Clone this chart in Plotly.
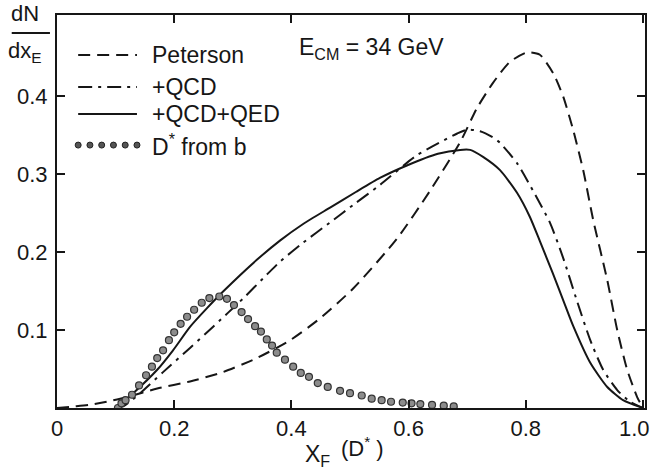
import plotly.graph_objects as go

# ---- data ----
pet_x = [0, 0.03, 0.056, 0.085, 0.119, 0.171, 0.227, 0.283, 0.341, 0.398, 0.449, 0.505,
         0.58, 0.637, 0.688, 0.717, 0.744, 0.773, 0.802, 0.824, 0.847, 0.864, 0.881,
         0.898, 0.915, 0.939, 0.956, 0.973, 0.99, 1.0]
pet_y = [0, 0.002, 0.004, 0.008, 0.014, 0.025, 0.034, 0.046, 0.064, 0.087, 0.115, 0.153,
         0.217, 0.279, 0.341, 0.385, 0.417, 0.444, 0.456, 0.453, 0.429, 0.399, 0.356,
         0.305, 0.241, 0.164, 0.10, 0.049, 0.014, 0]

qcd_x = [0.10, 0.113, 0.142, 0.181, 0.227, 0.266, 0.317, 0.358, 0.381, 0.42, 0.466, 0.51,
         0.551, 0.614, 0.683, 0.70, 0.722, 0.744, 0.756, 0.785, 0.812, 0.841, 0.864,
         0.887, 0.91, 0.932, 0.956, 0.978, 1.0]
qcd_y = [0, 0.002, 0.019, 0.046, 0.077, 0.104, 0.14, 0.171, 0.188, 0.212, 0.238, 0.263,
         0.286, 0.324, 0.352, 0.357, 0.355, 0.347, 0.34, 0.314, 0.279, 0.238, 0.192,
         0.138, 0.087, 0.049, 0.023, 0.008, 0]

qed_x = [0.10, 0.13, 0.171, 0.198, 0.227, 0.256, 0.283, 0.341, 0.381, 0.42, 0.466, 0.51,
         0.551, 0.597, 0.65, 0.688, 0.705, 0.727, 0.756, 0.785, 0.807, 0.824, 0.846,
         0.867, 0.881, 0.91, 0.939, 0.966, 1.0]
qed_y = [0, 0.019, 0.049, 0.074, 0.104, 0.128, 0.149, 0.19, 0.215, 0.236, 0.257, 0.277,
         0.295, 0.311, 0.326, 0.331, 0.331, 0.322, 0.305, 0.276, 0.245, 0.214, 0.173,
         0.132, 0.105, 0.058, 0.027, 0.01, 0]

db_x = [0.104, 0.11, 0.117, 0.128, 0.14, 0.152, 0.162, 0.171, 0.181, 0.191, 0.2, 0.211,
        0.222, 0.234, 0.247, 0.26, 0.277, 0.29, 0.302, 0.315, 0.326, 0.338, 0.348, 0.358,
        0.367, 0.375, 0.389, 0.403, 0.416, 0.43, 0.445, 0.462, 0.483, 0.5, 0.52, 0.537,
        0.554, 0.57, 0.59, 0.605, 0.62, 0.64, 0.66, 0.677]
db_y = [0.0, 0.006, 0.01, 0.017, 0.029, 0.042, 0.053, 0.064, 0.074, 0.087, 0.097, 0.108,
        0.117, 0.126, 0.135, 0.141, 0.143, 0.14, 0.132, 0.123, 0.114, 0.105, 0.098, 0.088,
        0.08, 0.071, 0.062, 0.053, 0.045, 0.040, 0.032, 0.027, 0.022, 0.019, 0.016, 0.012,
        0.010, 0.008, 0.007, 0.006, 0.005, 0.004, 0.003, 0.002]

x_ticks = [0, 0.2, 0.4, 0.6, 0.8, 1.0]
x_ticktext = ["0", "0.2", "0.4", "0.6", "0.8", "1.0"]
y_ticks = [0.1, 0.2, 0.3, 0.4]
y_ticktext = ["0.1", "0.2", "0.3", "0.4"]

legend_labels = ["Peterson", "+QCD", "+QCD+QED", "D<sup>*</sup> from b"]

# ---- styling ----
INK = "#161616"
FONT = "Liberation Sans"
DASH_PET = "12px,7px"
DASH_QCD = "14px,6px,3px,6px"

fig = go.Figure()
fig.add_trace(go.Scatter(x=pet_x, y=pet_y, mode="lines",
                         line=dict(color=INK, width=2, dash=DASH_PET, shape="spline", smoothing=0.6),
                         showlegend=False))
fig.add_trace(go.Scatter(x=qcd_x, y=qcd_y, mode="lines",
                         line=dict(color=INK, width=2, dash=DASH_QCD, shape="spline", smoothing=0.6),
                         showlegend=False))
fig.add_trace(go.Scatter(x=qed_x, y=qed_y, mode="lines",
                         line=dict(color=INK, width=2, shape="spline", smoothing=0.6),
                         showlegend=False))
fig.add_trace(go.Scatter(x=db_x, y=db_y, mode="markers",
                         marker=dict(size=7, color="#8c8c8c", line=dict(color="#333", width=1.2)),
                         showlegend=False))

# ---- hand-made legend (paper coordinates) ----
leg_y = [0.898, 0.817, 0.748, 0.669]
lx0, lx1 = 0.036, 0.136
for yy, dsh in zip(leg_y[:3], [DASH_PET, DASH_QCD, "solid"]):
    fig.add_shape(type="line", xref="paper", yref="paper", x0=lx0, x1=lx1, y0=yy, y1=yy,
                  line=dict(color=INK, width=2, dash=dsh))
fig.add_trace(go.Scatter(x=[lx0 + i * (lx1 - lx0) / 5 for i in range(6)], y=[leg_y[3]] * 6,
                         xaxis="x2", yaxis="y2", mode="markers",
                         marker=dict(size=6, color="#555", line=dict(color="#222", width=1)),
                         showlegend=False, hoverinfo="skip"))
for yy, lab in zip(leg_y, legend_labels):
    fig.add_annotation(xref="paper", yref="paper", x=0.158, y=yy, text=lab, showarrow=False,
                       xanchor="left", yanchor="middle", font=dict(size=23, color=INK, family=FONT))

# E_CM label
fig.add_annotation(xref="paper", yref="paper", x=0.408, y=0.915,
                   text="E<sub>CM</sub> = 34 GeV", showarrow=False,
                   xanchor="left", yanchor="middle", font=dict(size=23, color=INK, family=FONT))

# y-axis label as fraction
fig.add_annotation(xref="paper", yref="paper", x=-0.055, y=1.005, text="dN", showarrow=False,
                   xanchor="center", yanchor="middle", font=dict(size=22, color=INK, family=FONT))
fig.add_shape(type="line", xref="paper", yref="paper", x0=-0.077, x1=-0.012,
              y0=0.954, y1=0.954, line=dict(color=INK, width=2))
fig.add_annotation(xref="paper", yref="paper", x=-0.055, y=0.905, text="dx<sub>E</sub>",
                   showarrow=False, xanchor="center", yanchor="middle",
                   font=dict(size=22, color=INK, family=FONT))

# x-axis label
fig.add_annotation(xref="paper", yref="paper", x=0.418, y=-0.122, text="X<sub>F</sub>",
                   showarrow=False, xanchor="left", yanchor="middle",
                   font=dict(size=23, color=INK, family=FONT))
fig.add_annotation(xref="paper", yref="paper", x=0.48, y=-0.1, text="(D<sup>*</sup> )",
                   showarrow=False, xanchor="left", yanchor="middle",
                   font=dict(size=22, color=INK, family=FONT))

# last x tick label, kept inside the page (right-aligned at the edge)
fig.add_annotation(xref="paper", yref="paper", x=1.0125, y=-0.052, text=x_ticktext[-1],
                   showarrow=False, xanchor="right", yanchor="middle",
                   font=dict(size=22, color=INK, family=FONT))
x_ticktext_axis = x_ticktext[:-1] + [""]

axis_common = dict(showline=True, linecolor=INK, linewidth=2, mirror="ticks", ticks="inside",
                   ticklen=8, tickwidth=1.5, tickcolor=INK, showgrid=False, zeroline=False,
                   automargin=False, tickfont=dict(size=22, color=INK, family=FONT))
fig.update_layout(
    width=653, height=472,
    margin=dict(l=57, r=8, t=15, b=64, autoexpand=False),
    paper_bgcolor="white", plot_bgcolor="white",
    xaxis=dict(range=[0, 1.0034], tickvals=x_ticks, ticktext=x_ticktext_axis,
               ticklabelstandoff=0, ticklabeloverflow="allow", **axis_common),
    yaxis=dict(range=[0, 0.504], tickvals=y_ticks, ticktext=y_ticktext,
               ticklabelstandoff=3, **axis_common),
    xaxis2=dict(range=[0, 1], overlaying="x", visible=False),
    yaxis2=dict(range=[0, 1], overlaying="y", visible=False),
    showlegend=False,
)

fig.write_html("out.html")
